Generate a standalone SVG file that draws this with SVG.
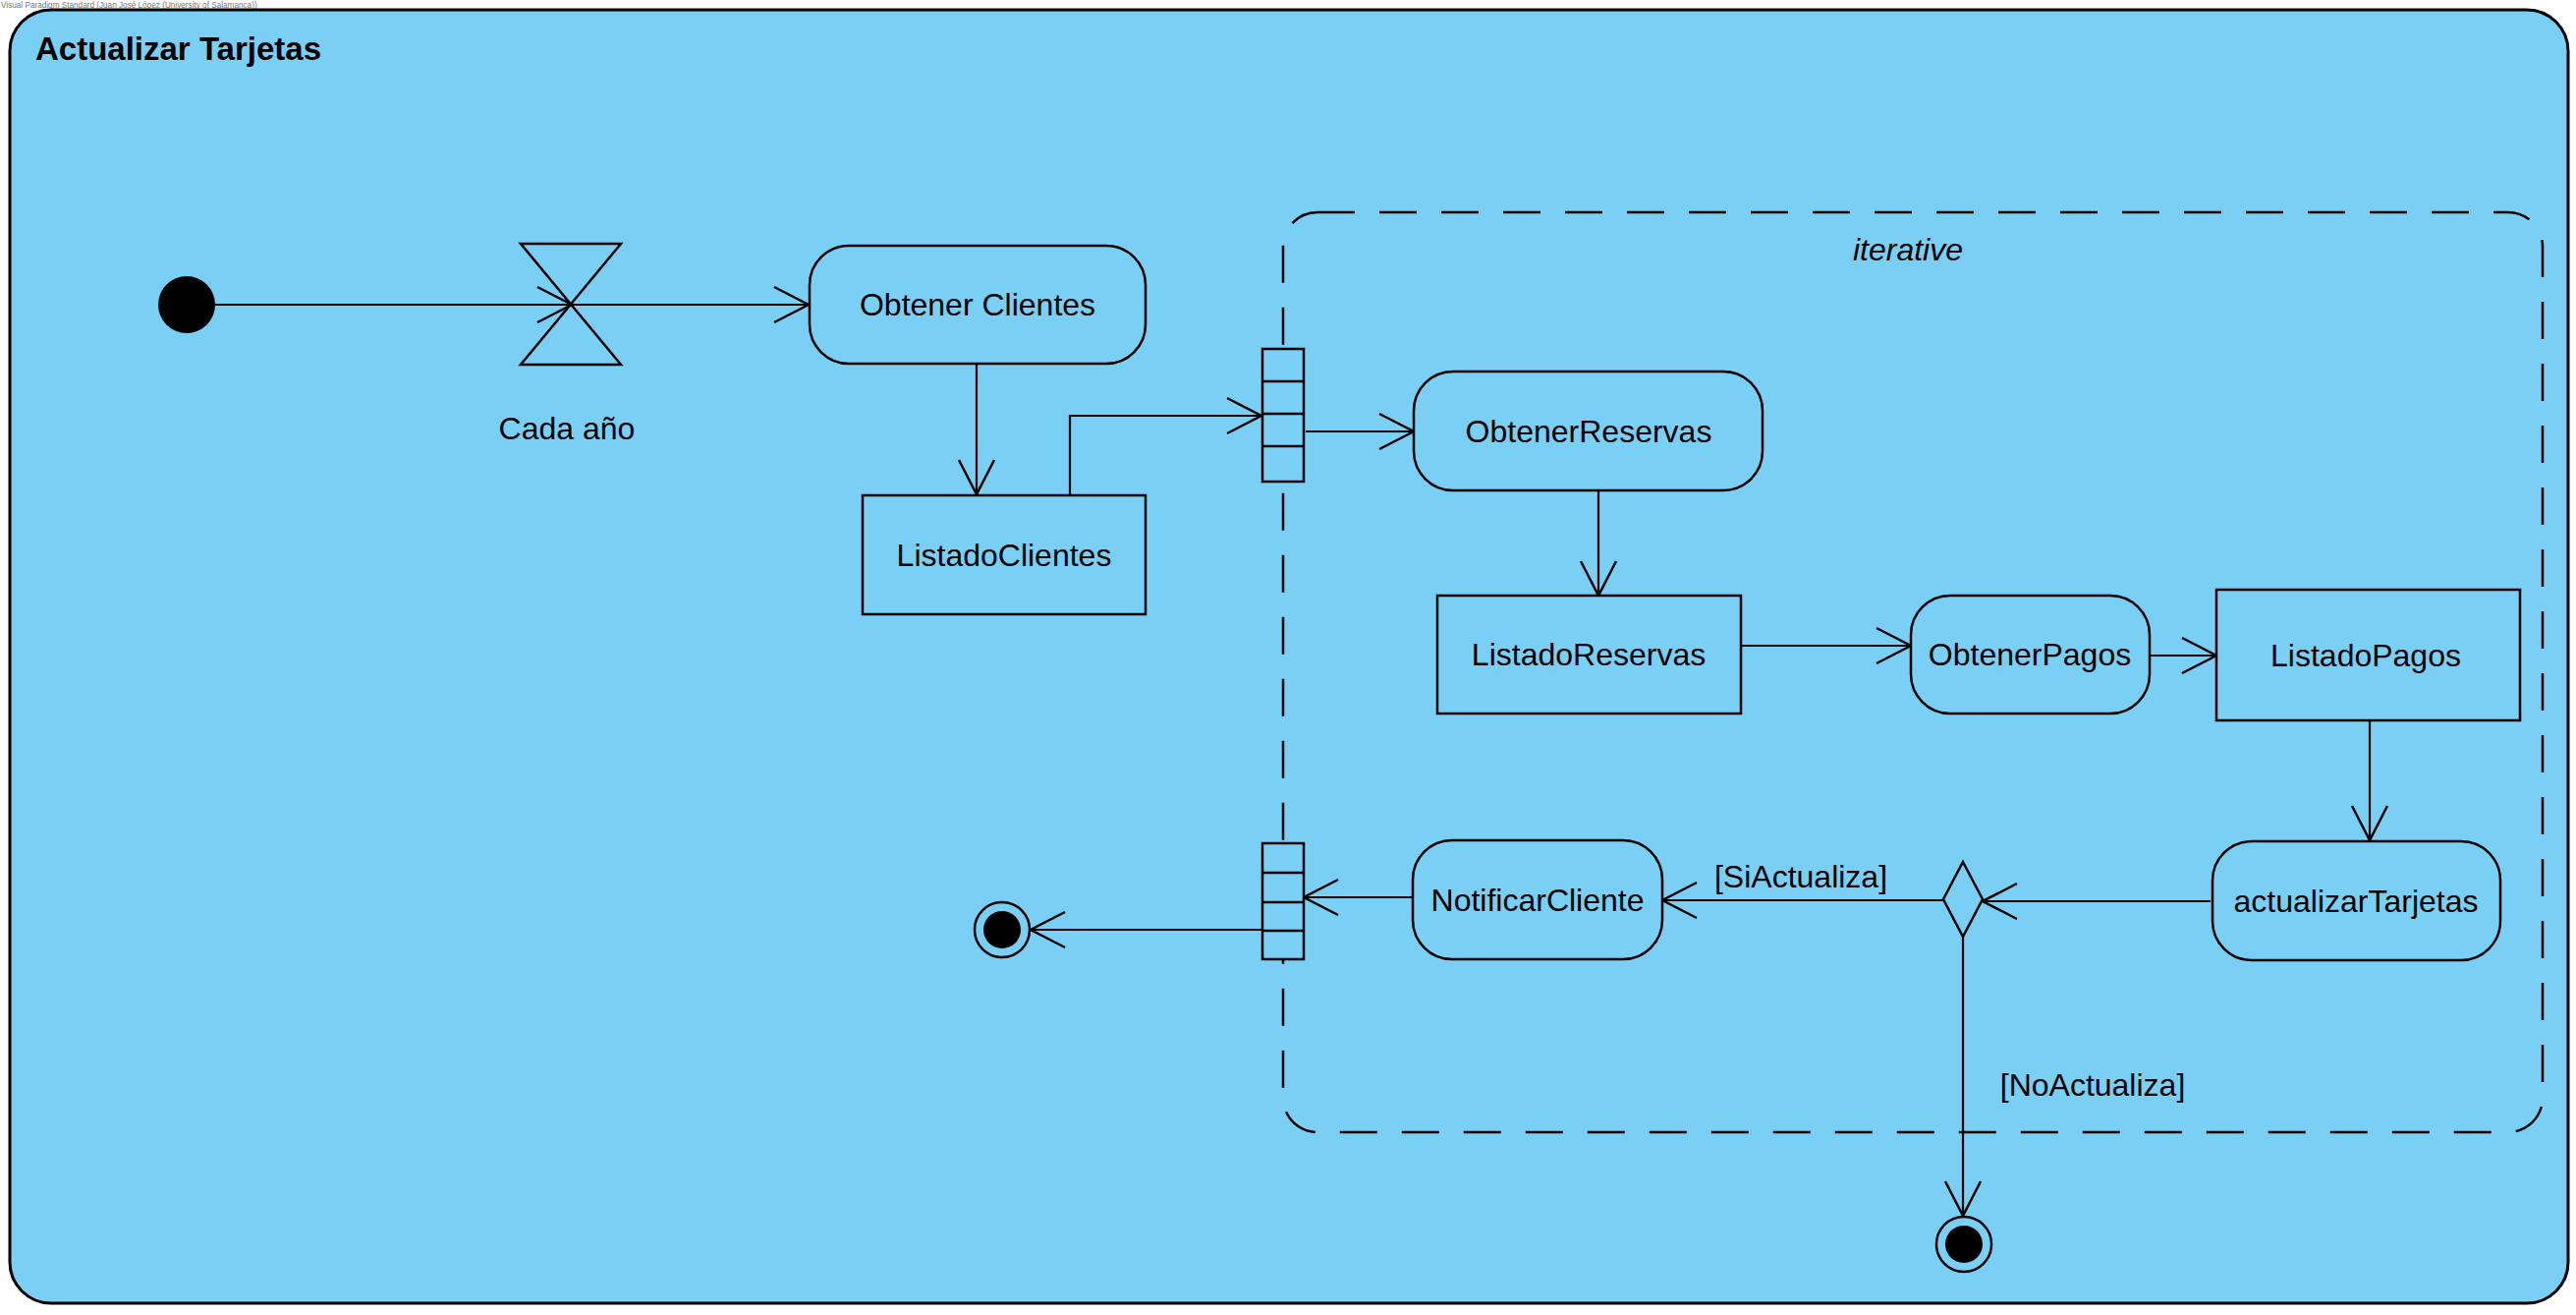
<svg xmlns="http://www.w3.org/2000/svg" width="2622" height="1338" viewBox="0 0 2622 1338">
<defs>
<marker id="arr" markerUnits="userSpaceOnUse" markerWidth="40" markerHeight="40" refX="35" refY="18" orient="auto" overflow="visible">
<path d="M0,0 L35,18 L0,36" fill="none" stroke="#000" stroke-width="2.5"/>
</marker>
</defs>
<style>
.node{fill:#7ACFF5;stroke:#000;stroke-width:2.5}
.lbl{font-family:"Liberation Sans",Arial,sans-serif;font-size:32px;fill:#000;text-anchor:middle}
.conn path{fill:none;stroke:#000;stroke-width:2.2;marker-end:url(#arr)}
</style>
<rect width="2622" height="1338" fill="#fff"/>
<text x="1" y="8" font-family="Liberation Sans,Arial,sans-serif" font-size="8.2" fill="#777">Visual Paradigm Standard (Juan José López (University of Salamanca))</text>
<g id="frame">
<rect x="10" y="10" width="2604" height="1316" rx="42" fill="#7ACFF5" stroke="#000" stroke-width="3"/>
<text x="36" y="61" font-family="Liberation Sans,Arial,sans-serif" font-size="33" font-weight="bold">Actualizar Tarjetas</text>
</g>
<g id="iterative-region">
<rect x="1306" y="216" width="1282" height="936" rx="35" fill="none" stroke="#000" stroke-width="2.5" stroke-dasharray="38 25"/>
<text class="lbl" x="1942" y="265" font-style="italic">iterative</text>
</g>
<g class="conn" id="connectors">
<path d="M219,310 H582"/>
<path d="M582,310 H823"/>
<path d="M994,371 V503"/>
<path d="M1089,504 V423 H1284"/>
<path d="M1329,439 H1439"/>
<path d="M1627,499 V606"/>
<path d="M1772,657 H1945"/>
<path d="M2188,667 H2256"/>
<path d="M2412,733 V855"/>
<path d="M2250,917 H2018"/>
<path d="M1978,916 H1692"/>
<path d="M1438,913 H1327"/>
<path d="M1285,946 H1049"/>
<path d="M1998,953 V1237"/>
</g>
<text class="lbl" x="1833" y="903">[SiActualiza]</text>
<text class="lbl" x="2130" y="1115">[NoActualiza]</text>
<g id="initial"><circle cx="190" cy="310" r="29" fill="#000"/></g>
<g id="timeEvent">
<polygon points="530,248 632,248 530,371 632,371" fill="none" stroke="#000" stroke-width="2.5" stroke-linejoin="miter"/>
<text class="lbl" x="577" y="447">Cada año</text>
</g>
<g id="ObtenerClientes"><rect class="node" x="824" y="250" width="342" height="120" rx="40"/><text class="lbl" x="995" y="321">Obtener Clientes</text></g>
<g id="ListadoClientes"><rect class="node" x="878" y="504" width="288" height="121"/><text class="lbl" x="1022" y="576">ListadoClientes</text></g>
<g id="inputPin">
<rect class="node" x="1285" y="355" width="42" height="135"/>
<path d="M1285,388 H1327 M1285,421 H1327 M1285,454 H1327" stroke="#000" stroke-width="2.5"/>
</g>
<g id="ObtenerReservas"><rect class="node" x="1439" y="378" width="355" height="121" rx="40"/><text class="lbl" x="1617" y="450">ObtenerReservas</text></g>
<g id="ListadoReservas"><rect class="node" x="1463" y="606" width="309" height="120"/><text class="lbl" x="1617" y="677">ListadoReservas</text></g>
<g id="ObtenerPagos"><rect class="node" x="1945" y="606" width="243" height="120" rx="40"/><text class="lbl" x="2066" y="677">ObtenerPagos</text></g>
<g id="ListadoPagos"><rect class="node" x="2256" y="600" width="309" height="133"/><text class="lbl" x="2408" y="678">ListadoPagos</text></g>
<g id="actualizarTarjetas"><rect class="node" x="2252" y="856" width="293" height="121" rx="40"/><text class="lbl" x="2398" y="928">actualizarTarjetas</text></g>
<g id="decision"><polygon class="node" points="1998,877 2018,915 1998,953 1978,915"/></g>
<g id="NotificarCliente"><rect class="node" x="1438" y="855" width="254" height="121" rx="40"/><text class="lbl" x="1565" y="927">NotificarCliente</text></g>
<g id="outputPin">
<rect class="node" x="1285" y="858" width="42" height="118"/>
<path d="M1285,888 H1327 M1285,918 H1327 M1285,947 H1327" stroke="#000" stroke-width="2.5"/>
</g>
<g id="final1"><circle cx="1020" cy="946" r="28" fill="#7ACFF5" stroke="#000" stroke-width="2.5"/><circle cx="1020" cy="946" r="19" fill="#000"/></g>
<g id="final2"><circle cx="1999" cy="1266" r="28" fill="#7ACFF5" stroke="#000" stroke-width="2.5"/><circle cx="1999" cy="1266" r="19" fill="#000"/></g>
</svg>
